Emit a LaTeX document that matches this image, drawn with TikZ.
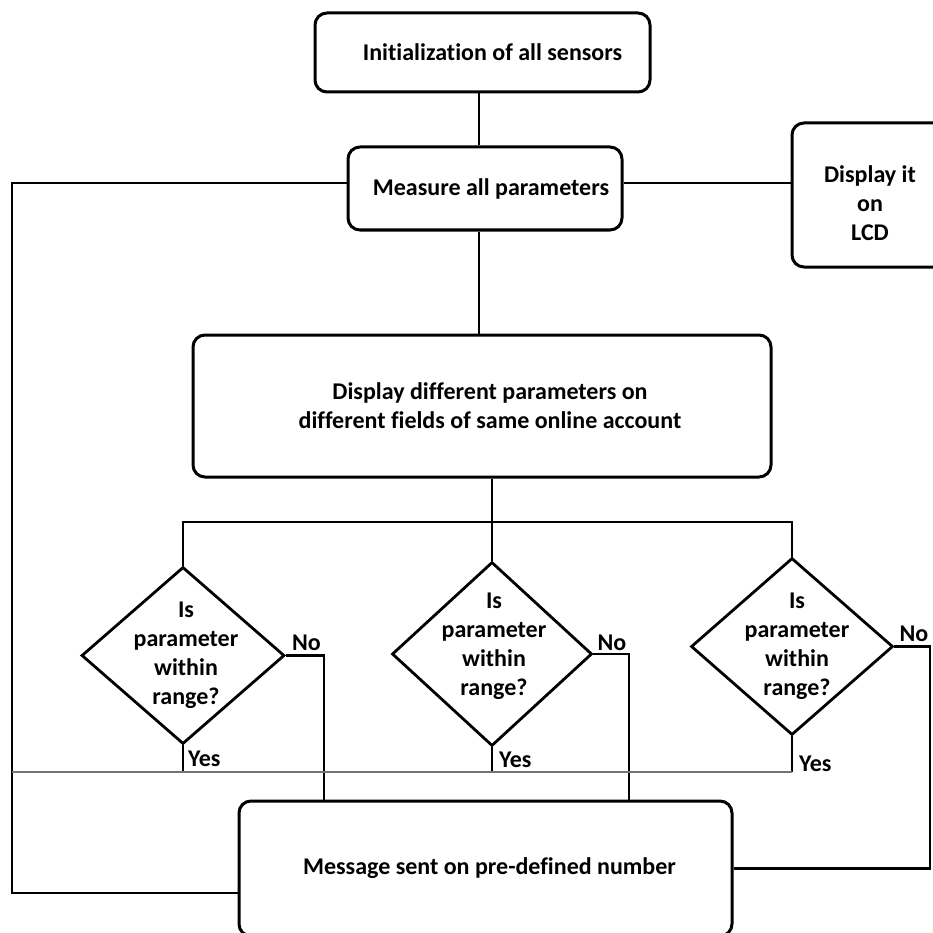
\documentclass[tikz,border=0pt]{standalone}
\usepackage{fontspec}
\setmainfont{Carlito}[Ligatures=NoCommon]
\usetikzlibrary{shapes.geometric}
\begin{document}
\begin{tikzpicture}[x=1pt,y=-1pt,
  every node/.style={font=\bfseries\fontsize{24}{29}\selectfont},
  stepbox/.style={draw, rounded corners=12pt, line width=3pt, inner sep=0pt},
  decision/.style={draw, diamond, line width=2.8pt, inner sep=0pt},
  link/.style={line width=2.8pt},
  yesrule/.style={line width=1.5pt, draw=black!55},
  caption/.style={align=center, inner sep=0pt},
  tag/.style={inner sep=0pt}]
\useasboundingbox (0,0) rectangle (932,933);

% process boxes
\node[stepbox, minimum width=335pt, minimum height=79pt,
  label={[caption, name=tinit, xshift=10pt]center:Initialization of all sensors}]
  (init) at (482.5,52.5) {};
\node[stepbox, minimum width=274pt, minimum height=83pt,
  label={[caption, name=tmeas, xshift=6pt]center:Measure all parameters}]
  (meas) at (485,188.5) {};
\node[stepbox, minimum width=156pt, minimum height=144pt,
  label={[caption, name=tlcd, yshift=-8pt]center:Display it\\on\\LCD}]
  (lcd) at (870,195) {};
\node[stepbox, minimum width=578pt, minimum height=142pt,
  label={[caption, name=tshow, xshift=8pt]center:Display different parameters on\\different fields of same online account}]
  (show) at (482,406) {};
\node[stepbox, minimum width=493pt, minimum height=135pt,
  label={[caption, name=tmsg, xshift=4pt]center:Message sent on pre-defined number}]
  (msg) at (485.5,868.5) {};

% decisions
\node[decision, minimum width=203pt, minimum height=177pt,
  label={[caption, name=tq1, xshift=3pt, yshift=0pt]center:Is\\parameter\\within\\range?}]
  (d1) at (183,655.5) {};
\node[decision, minimum width=200pt, minimum height=184pt,
  label={[caption, name=tq2, xshift=2pt, yshift=8pt]center:Is\\parameter\\within\\range?}]
  (d2) at (492,654) {};
\node[decision, minimum width=202pt, minimum height=177pt,
  label={[caption, name=tq3, xshift=5pt, yshift=0pt]center:Is\\parameter\\within\\range?}]
  (d3) at (792,646.5) {};

% branch labels
\node[tag, anchor=south west] (no1) at ([xshift=6pt, yshift=5pt]d1.east) {No};
\node[tag, anchor=south west] (no2) at ([xshift=4pt, yshift=3pt]d2.east) {No};
\node[tag, anchor=south west] (no3) at ([xshift=5pt, yshift=5pt]d3.east) {No};
\node[tag, anchor=west] (yes1) at ([xshift=5pt, yshift=-13pt]d1.south) {Yes};
\node[tag, anchor=west] (yes2) at ([xshift=7pt, yshift=-12pt]d2.south) {Yes};
\node[tag, anchor=west] (yes3) at ([xshift=7pt, yshift=-27pt]d3.south) {Yes};

% helper coordinates for routing
\coordinate (spine) at (479,0);
\coordinate (side) at (0,183);
\coordinate (loopL) at (12,893);
\coordinate (bar) at (0,522);
\coordinate (yesrow) at (0,772);
\coordinate (n1) at (324,0);
\coordinate (n2) at (629,0);
\coordinate (n3) at (930,0);

% main flow
\draw[link] (init.south -| spine) -- (meas.north -| spine);
\draw[link] (meas.south -| spine) -- (show.north -| spine);
\draw[link] (meas.east |- side) -- (lcd.west |- side);
\draw[link] (meas.west |- side) -| (loopL) -- (loopL -| msg.west);
\draw[link] (d2.north |- show.south) -- (d2.north);
\draw[link] (d1.north) |- (bar -| d3.north) -- (d3.north);

% "No" branches
\draw[link] (d1.east) -| (n1 |- msg.north);
\draw[link] (d2.east) -| (n2 |- msg.north);
\draw[link] (d3.east) -| (n3 |- msg.east) -- (msg.east);

% "Yes" branches
\draw[link] (d1.south) -- (d1.south |- yesrow);
\draw[link] (d2.south) -- (d2.south |- yesrow);
\draw[link] (d3.south) -- (d3.south |- yesrow);
\draw[yesrule] (loopL |- yesrow) -- (d3.south |- yesrow);
\end{tikzpicture}
\end{document}
